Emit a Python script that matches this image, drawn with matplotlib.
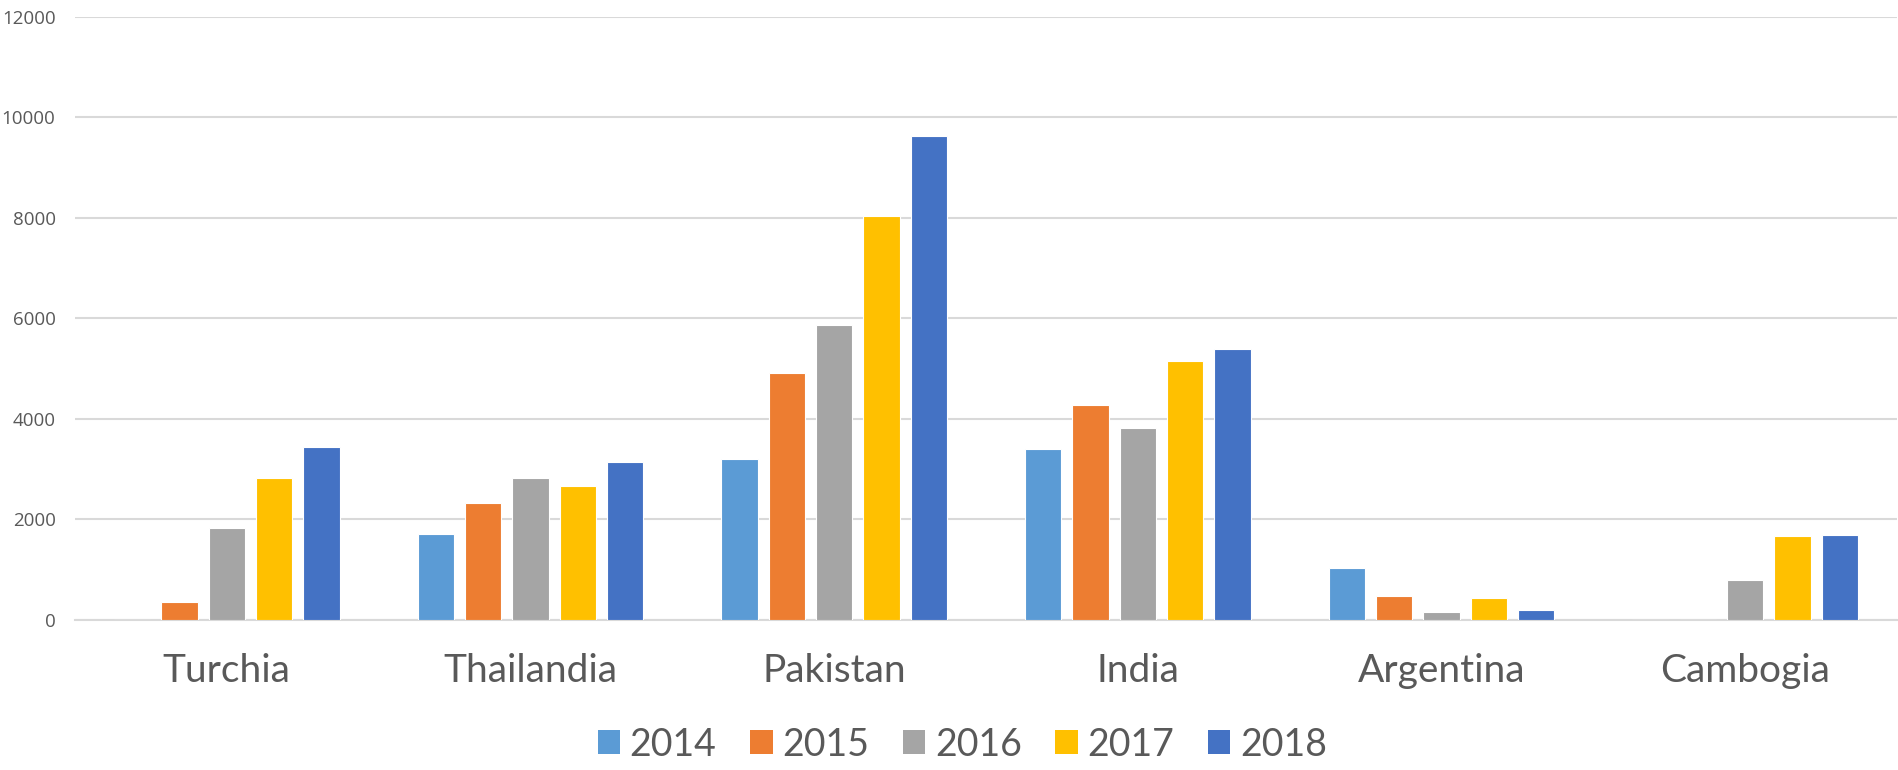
import numpy as np
import matplotlib.pyplot as plt
from matplotlib.patches import Patch

# data
countries = ["Turchia", "Thailandia", "Pakistan", "India", "Argentina", "Cambogia"]
years = ["2014", "2015", "2016", "2017", "2018"]

v2014 = [0, 1700, 3210, 3410, 1025, 0]
v2015 = [350, 2335, 4910, 4270, 475, 0]
v2016 = [1825, 2830, 5870, 3810, 165, 790]
v2017 = [2830, 2660, 8040, 5150, 435, 1675]
v2018 = [3445, 3150, 9630, 5390, 205, 1690]

colors = ["#5B9BD5", "#ED7D31", "#A5A5A5", "#FFC000", "#4472C4"]

plt.rcParams["font.family"] = ["Lato", "DejaVu Sans"]

fig = plt.figure(figsize=(18.98, 7.70), dpi=100)
ax = fig.add_axes([0.0395, 0.195, 0.96, 0.783])

x = np.arange(len(countries))
pitch = 0.156
width = 0.12
series = [v2014, v2015, v2016, v2017, v2018]
for i, (vals, c) in enumerate(zip(series, colors)):
    ax.bar(x + (i - 2) * pitch, vals, width, color=c, edgecolor="white",
           linewidth=0.8, zorder=3, label=years[i])

ax.set_xlim(-0.5, len(countries) - 0.5)
ax.set_ylim(0, 12000)
ax.set_yticks(np.arange(0, 12001, 2000))
ax.yaxis.grid(True, color="#D9D9D9", linewidth=1.5, zorder=0)
ax.set_axisbelow(True)
for s in ["top", "right", "left"]:
    ax.spines[s].set_visible(False)
ax.spines["bottom"].set_color("#D9D9D9")
ax.spines["bottom"].set_linewidth(1.5)

ax.set_xticks(x)
ax.set_xticklabels(countries, fontsize=28, color="#595959")
ax.tick_params(axis="x", length=0, pad=24)
ax.tick_params(axis="y", length=0, labelcolor="#595959", pad=14)
for lab in ax.get_yticklabels():
    lab.set_fontfamily(["Open Sans", "DejaVu Sans"])
    lab.set_fontsize(13.5)

handles = [Patch(facecolor=c, edgecolor="none") for c in colors]
fig.legend(handles, years, loc="center", bbox_to_anchor=(0.507, 0.033),
           ncol=5, frameon=False, fontsize=27, labelcolor="#595959",
           handlelength=0.6, handleheight=0.6, handletextpad=0.25,
           columnspacing=0.9)

fig.savefig("out.png", dpi=100)
